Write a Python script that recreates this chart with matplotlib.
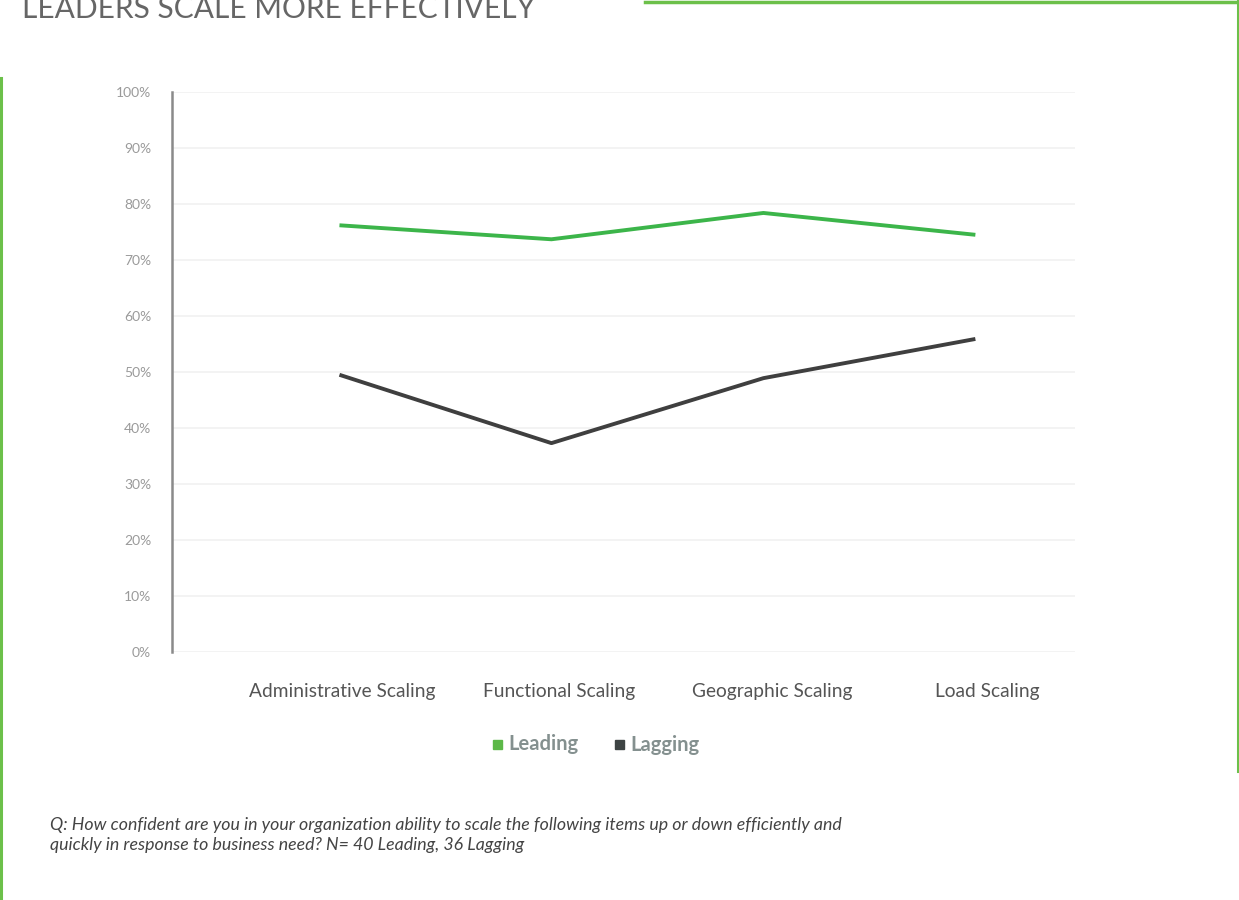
import matplotlib
matplotlib.use("Agg")
import matplotlib.pyplot as plt
from matplotlib.lines import Line2D
from matplotlib.patches import Rectangle
from matplotlib.transforms import ScaledTranslation

categories = ["Administrative Scaling", "Functional Scaling", "Geographic Scaling", "Load Scaling"]
leading = [76.2, 73.7, 78.4, 74.5]
lagging = [49.5, 37.3, 48.9, 55.9]
y_ticks = [0, 10, 20, 30, 40, 50, 60, 70, 80, 90, 100]
y_tick_labels = [f"{v}%" for v in y_ticks]

GREEN = "#3cb54a"
DARK = "#3f3f3f"
FRAME = "#6cc04a"

fig = plt.figure(figsize=(12.39, 9.0), dpi=100)
W, H = 1239, 900

def fx(px):
    return px / W

def fy(py):
    return 1 - py / H

ax = fig.add_axes([fx(172), fy(652), fx(1075) - fx(172), fy(92) - fy(652)])
x = list(range(len(categories)))
ax.plot(x, leading, color=GREEN, lw=2.8, solid_capstyle="butt")
ax.plot(x, lagging, color=DARK, lw=2.8, solid_capstyle="butt")

ax.set_xlim(-0.79, 3.47)
ax.set_ylim(0, 100)
ax.set_yticks(y_ticks)
ax.set_yticklabels(y_tick_labels)
ax.set_xticks(x)
ax.set_xticklabels(categories)
ax.tick_params(axis="y", length=0, pad=15, labelsize=10, labelcolor="#9a9a9a")
ax.tick_params(axis="x", length=0, pad=22, labelsize=13.8, labelcolor="#555555")
for lbl in ax.get_yticklabels() + ax.get_xticklabels():
    lbl.set_family("Lato")
# category labels sit a little to the right of their points
for lbl, shift in zip(ax.get_xticklabels(), [3, 8, 9, 12]):
    lbl.set_transform(lbl.get_transform() + ScaledTranslation(shift / 100, 0, fig.dpi_scale_trans))
ax.grid(axis="y", color="#f1f1f1", lw=1.2)
ax.set_axisbelow(True)
for side in ["top", "right", "bottom"]:
    ax.spines[side].set_visible(False)
ax.spines["left"].set_color("#8a8a8a")
ax.spines["left"].set_linewidth(1.8)

# Legend
legend_font = dict(family="Lato", size=14.5, color="#84908f", weight="bold", va="center")
fig.patches.append(Rectangle((fx(493), fy(749)), 9 / W, 9 / H, transform=fig.transFigure,
                             color="#5cb848", figure=fig))
fig.text(fx(508), fy(744), "Leading", **legend_font)
fig.patches.append(Rectangle((fx(615), fy(749)), 9 / W, 9 / H, transform=fig.transFigure,
                             color="#3e4444", figure=fig))
fig.text(fx(630), fy(745), "Lagging", **legend_font)

# Title and footnote
fig.text(fx(22), fy(18), "LEADERS SCALE MORE EFFECTIVELY", family="Lato",
         size=21.5, color="#666666", va="baseline")
foot_lines = [
    "Q: How confident are you in your organization ability to scale the following items up or down efficiently and",
    "quickly in response to business need? N= 40 Leading, 36 Lagging",
]
for line, ypx in zip(foot_lines, [825, 845]):
    fig.text(fx(50), fy(ypx), line, family="Lato", style="italic", size=12.8,
             color="#444444", va="center")

# Green frame segments
fig.add_artist(Line2D([fx(645), fx(1238)], [fy(1.5), fy(1.5)], color=FRAME, lw=2.5))
fig.add_artist(Line2D([fx(1237.5), fx(1237.5)], [fy(0), fy(771)], color=FRAME, lw=2.2))
fig.add_artist(Line2D([fx(1), fx(1)], [fy(78), fy(900)], color=FRAME, lw=2.2))

fig.savefig("out.png", dpi=100, facecolor="white")
